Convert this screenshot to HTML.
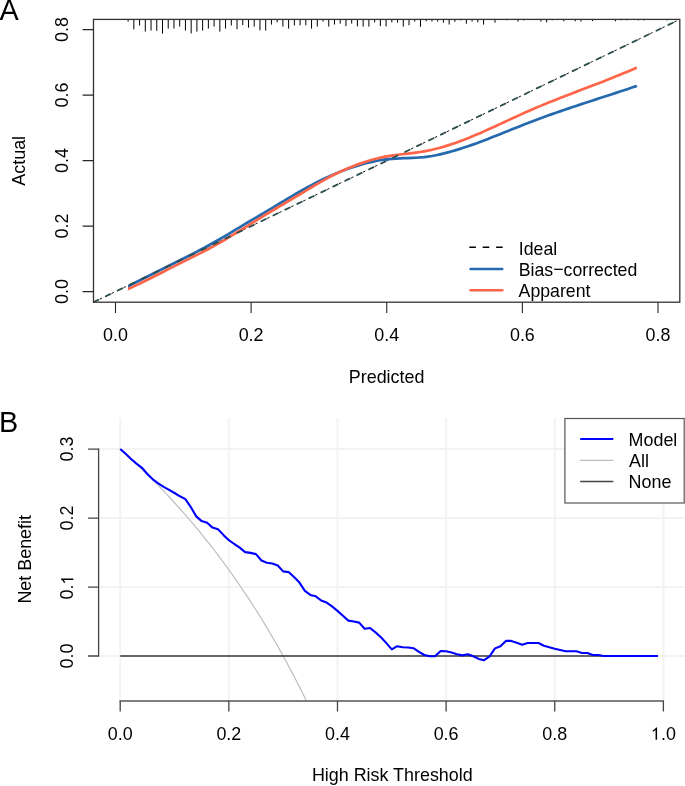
<!DOCTYPE html>
<html><head><meta charset="utf-8"><style>
html,body{margin:0;padding:0;background:#fff;width:685px;height:786px;overflow:hidden;}
svg{will-change:transform}
svg text{font-family:"Liberation Sans",sans-serif;}
</style></head><body>
<svg width="685" height="786" viewBox="0 0 685 786" style="display:block">
<rect x="0" y="0" width="685" height="786" fill="#fff"/>
<path d="M128.10,19.40 V21.60 M133.83,19.40 V29.40 M139.57,19.40 V25.50 M145.30,19.40 V31.60 M151.03,19.40 V30.60 M156.76,19.40 V30.80 M162.50,19.40 V33.60 M168.23,19.40 V28.60 M173.96,19.40 V28.60 M179.70,19.40 V26.60 M185.43,19.40 V30.60 M191.16,19.40 V33.40 M196.90,19.40 V31.60 M202.63,19.40 V30.60 M208.36,19.40 V28.60 M214.09,19.40 V26.60 M219.83,19.40 V31.60 M225.56,19.40 V28.60 M231.29,19.40 V25.50 M237.03,19.40 V29.20 M242.76,19.40 V25.10 M248.49,19.40 V27.70 M254.23,19.40 V26.60 M259.96,19.40 V30.30 M265.69,19.40 V30.60 M271.42,19.40 V24.60 M277.16,19.40 V22.40 M282.89,19.40 V26.60 M288.62,19.40 V28.60 M294.36,19.40 V25.50 M300.09,19.40 V25.30 M305.82,19.40 V25.30 M311.56,19.40 V28.60 M317.29,19.40 V26.60 M323.02,19.40 V21.60 M328.75,19.40 V26.60 M334.49,19.40 V24.50 M340.22,19.40 V23.60 M345.95,19.40 V26.20 M351.69,19.40 V23.60 M357.42,19.40 V26.40 M363.15,19.40 V26.60 M368.89,19.40 V26.60 M374.62,19.40 V22.40 M380.35,19.40 V26.20 M386.08,19.40 V26.40 M391.82,19.40 V22.40 M397.55,19.40 V22.70 M403.28,19.40 V26.60 M409.02,19.40 V25.30 M414.75,19.40 V21.60 M420.48,19.40 V26.80 M426.22,19.40 V21.30 M431.95,19.40 V21.60 M437.68,19.40 V21.60 M443.41,19.40 V22.70 M449.15,19.40 V24.50 M454.88,19.40 V21.80 M460.61,19.40 V20.40 M466.35,19.40 V23.80 M472.08,19.40 V21.60 M477.81,19.40 V22.40 M483.55,19.40 V24.60 M495.01,19.40 V22.70 M500.75,19.40 V20.10 M506.48,19.40 V20.30 M517.94,19.40 V21.60 M523.68,19.40 V20.40 M540.88,19.40 V21.60 M546.61,19.40 V22.40 M552.34,19.40 V20.30 M563.81,19.40 V21.30 M575.27,19.40 V21.30 M581.01,19.40 V21.60 M592.47,19.40 V21.10 M615.40,19.40 V21.30 M621.14,19.40 V20.40 M626.87,19.40 V20.40 M638.34,19.40 V20.40 M644.07,19.40 V20.40 M667.00,19.40 V20.40 " stroke="#000" stroke-width="1" fill="none"/>
<line x1="93.50" y1="302.20" x2="679.80" y2="19.40" stroke="#111" stroke-width="1" stroke-dasharray="2.6 4.045" stroke-dashoffset="-0.175"/>
<clipPath id="cs"><rect x="128.0" y="0" width="600" height="400"/></clipPath>
<g clip-path="url(#cs)"><path d="M126.00,287.48 L128.00,286.44 L132.00,284.36 L136.00,282.30 L140.00,280.27 L144.00,278.25 L148.00,276.24 L152.00,274.24 L156.00,272.25 L160.00,270.27 L164.00,268.29 L168.00,266.30 L172.00,264.31 L176.00,262.32 L180.00,260.31 L184.00,258.29 L188.00,256.25 L192.00,254.19 L196.00,252.11 L200.00,250.01 L204.00,247.87 L208.00,245.70 L212.00,243.50 L216.00,241.26 L220.00,238.98 L224.00,236.66 L228.00,234.30 L232.00,231.90 L236.00,229.47 L240.00,227.04 L244.00,224.64 L248.00,222.27 L252.00,219.92 L256.00,217.57 L260.00,215.22 L264.00,212.85 L268.00,210.46 L272.00,208.06 L276.00,205.66 L280.00,203.25 L284.00,200.85 L288.00,198.47 L292.00,196.11 L296.00,193.78 L300.00,191.48 L304.00,189.22 L308.00,187.01 L312.00,184.85 L316.00,182.76 L320.00,180.73 L324.00,178.78 L328.00,176.91 L332.00,175.12 L336.00,173.41 L340.00,171.79 L344.00,170.25 L348.00,168.80 L352.00,167.43 L356.00,166.14 L360.00,164.93 L364.00,163.81 L368.00,162.77 L372.00,161.83 L376.00,160.99 L380.00,160.27 L384.00,159.66 L388.00,159.18 L392.00,158.82 L396.00,158.56 L400.00,158.37 L404.00,158.22 L408.00,158.08 L412.00,157.93 L416.00,157.73 L420.00,157.46 L424.00,157.09 L428.00,156.59 L432.00,155.97 L436.00,155.22 L440.00,154.37 L444.00,153.43 L448.00,152.39 L452.00,151.29 L456.00,150.12 L460.00,148.88 L464.00,147.59 L468.00,146.24 L472.00,144.85 L476.00,143.42 L480.00,141.94 L484.00,140.44 L488.00,138.90 L492.00,137.34 L496.00,135.76 L500.00,134.17 L504.00,132.57 L508.00,130.96 L512.00,129.35 L516.00,127.75 L520.00,126.15 L524.00,124.58 L528.00,123.02 L532.00,121.48 L536.00,119.97 L540.00,118.48 L544.00,117.01 L548.00,115.57 L552.00,114.14 L556.00,112.74 L560.00,111.35 L564.00,109.97 L568.00,108.61 L572.00,107.27 L576.00,105.93 L580.00,104.60 L584.00,103.28 L588.00,101.97 L592.00,100.66 L596.00,99.36 L600.00,98.06 L604.00,96.76 L608.00,95.46 L612.00,94.16 L616.00,92.85 L620.00,91.54 L624.00,90.23 L628.00,88.91 L632.00,87.57 L635.80,86.30" stroke="#2569AF" stroke-width="2.70" fill="none" stroke-linejoin="round"/></g>
<circle cx="635.80" cy="86.30" r="1.35" fill="#2569AF"/>
<g clip-path="url(#cs)"><path d="M126.00,289.95 L128.00,289.05 L132.00,287.25 L136.00,285.39 L140.00,283.48 L144.00,281.54 L148.00,279.56 L152.00,277.56 L156.00,275.54 L160.00,273.50 L164.00,271.46 L168.00,269.42 L172.00,267.39 L176.00,265.37 L180.00,263.37 L184.00,261.38 L188.00,259.39 L192.00,257.40 L196.00,255.39 L200.00,253.36 L204.00,251.30 L208.00,249.21 L212.00,247.06 L216.00,244.87 L220.00,242.61 L224.00,240.29 L228.00,237.90 L232.00,235.47 L236.00,233.00 L240.00,230.52 L244.00,228.02 L248.00,225.53 L252.00,223.05 L256.00,220.58 L260.00,218.12 L264.00,215.68 L268.00,213.27 L272.00,210.88 L276.00,208.50 L280.00,206.12 L284.00,203.75 L288.00,201.39 L292.00,199.02 L296.00,196.64 L300.00,194.24 L304.00,191.84 L308.00,189.43 L312.00,187.03 L316.00,184.67 L320.00,182.35 L324.00,180.09 L328.00,177.91 L332.00,175.82 L336.00,173.80 L340.00,171.88 L344.00,170.04 L348.00,168.29 L352.00,166.64 L356.00,165.08 L360.00,163.61 L364.00,162.25 L368.00,160.98 L372.00,159.82 L376.00,158.75 L380.00,157.80 L384.00,156.94 L388.00,156.20 L392.00,155.56 L396.00,154.99 L400.00,154.48 L404.00,154.01 L408.00,153.55 L412.00,153.07 L416.00,152.56 L420.00,152.00 L424.00,151.35 L428.00,150.61 L432.00,149.76 L436.00,148.81 L440.00,147.76 L444.00,146.62 L448.00,145.40 L452.00,144.09 L456.00,142.71 L460.00,141.26 L464.00,139.74 L468.00,138.17 L472.00,136.54 L476.00,134.86 L480.00,133.14 L484.00,131.38 L488.00,129.60 L492.00,127.79 L496.00,125.95 L500.00,124.11 L504.00,122.26 L508.00,120.40 L512.00,118.55 L516.00,116.70 L520.00,114.87 L524.00,113.07 L528.00,111.28 L532.00,109.53 L536.00,107.81 L540.00,106.13 L544.00,104.47 L548.00,102.83 L552.00,101.22 L556.00,99.63 L560.00,98.06 L564.00,96.50 L568.00,94.95 L572.00,93.41 L576.00,91.88 L580.00,90.36 L584.00,88.83 L588.00,87.31 L592.00,85.78 L596.00,84.24 L600.00,82.70 L604.00,81.14 L608.00,79.57 L612.00,77.98 L616.00,76.37 L620.00,74.75 L624.00,73.09 L628.00,71.41 L632.00,69.70 L635.80,68.04" stroke="#FF6549" stroke-width="2.70" fill="none" stroke-linejoin="round"/></g>
<circle cx="635.80" cy="68.04" r="1.35" fill="#FF6549"/>
<line x1="93.50" y1="302.20" x2="679.80" y2="19.40" stroke="#2F4F4F" stroke-width="1.8" stroke-dasharray="5.0 8.29" stroke-dashoffset="-0.32" stroke-linecap="round"/>
<rect x="93.50" y="19.40" width="586.30" height="282.80" fill="none" stroke="#333" stroke-width="1.3"/>
<path d="M93.50,291.60 H82.60 M93.50,226.10 H82.60 M93.50,160.60 H82.60 M93.50,95.10 H82.60 M93.50,29.60 H82.60 M115.50,302.20 V312.90 M251.12,302.20 V312.90 M386.75,302.20 V312.90 M522.38,302.20 V312.90 M658.00,302.20 V312.90 " stroke="#262626" stroke-width="1.1" fill="none"/>
<line x1="469.3" y1="247.3" x2="503" y2="247.3" stroke="#000" stroke-width="1.4" stroke-dasharray="6.6 6.8"/>
<line x1="470.6" y1="269.0" x2="502.2" y2="269.0" stroke="#2569AF" stroke-width="2.6" stroke-linecap="round"/>
<line x1="470.6" y1="290.2" x2="502.2" y2="290.2" stroke="#FF6549" stroke-width="2.6" stroke-linecap="round"/>
<path d="M120.20,418.00 V701.00 M228.84,418.00 V701.00 M337.48,418.00 V701.00 M446.12,418.00 V701.00 M554.76,418.00 V701.00 M663.40,418.00 V701.00 M98.60,656.00 H686.00 M98.60,587.03 H686.00 M98.60,518.06 H686.00 M98.60,449.09 H686.00 " stroke="#F3F3F3" stroke-width="2" fill="none"/>
<clipPath id="cb"><rect x="98.60" y="418.00" width="587.40" height="283.00"/></clipPath>
<path d="M120.20,449.09 L122.92,451.52 L125.63,453.97 L128.35,456.44 L131.06,458.94 L133.78,461.47 L136.50,464.02 L139.21,466.60 L141.93,469.21 L144.64,471.84 L147.36,474.50 L150.08,477.19 L152.79,479.91 L155.51,482.65 L158.22,485.43 L160.94,488.24 L163.66,491.07 L166.37,493.94 L169.09,496.84 L171.80,499.77 L174.52,502.73 L177.24,505.73 L179.95,508.76 L182.67,511.83 L185.38,514.92 L188.10,518.06 L190.82,521.23 L193.53,524.44 L196.25,527.68 L198.96,530.97 L201.68,534.29 L204.40,537.65 L207.11,541.05 L209.83,544.49 L212.54,547.97 L215.26,551.50 L217.98,555.07 L220.69,558.68 L223.41,562.34 L226.12,566.04 L228.84,569.79 L231.56,573.58 L234.27,577.43 L236.99,581.32 L239.70,585.26 L242.42,589.25 L245.14,593.30 L247.85,597.40 L250.57,601.55 L253.28,605.76 L256.00,610.02 L258.72,614.34 L261.43,618.72 L264.15,623.16 L266.86,627.66 L269.58,632.22 L272.30,636.84 L275.01,641.53 L277.73,646.29 L280.44,651.11 L283.16,656.00 L285.88,660.96 L288.59,666.00 L291.31,671.10 L294.02,676.29 L296.74,681.54 L299.46,686.88 L302.17,692.30 L304.89,697.80 L307.60,703.38" stroke="#BEBEBE" stroke-width="1.2" fill="none" clip-path="url(#cb)"/>
<line x1="120.20" y1="656" x2="657.97" y2="656" stroke="#363636" stroke-width="1.5"/>
<path d="M120.20,449.00 L125.63,453.80 L131.06,459.00 L136.50,463.60 L141.93,467.80 L147.36,474.00 L152.79,479.30 L158.22,483.30 L163.66,486.80 L169.09,489.80 L174.52,493.00 L179.95,496.30 L185.38,499.10 L190.82,507.10 L196.25,516.40 L201.68,521.10 L207.11,522.80 L212.54,527.60 L217.98,529.20 L223.41,534.90 L228.84,540.20 L234.27,544.00 L239.70,547.60 L245.14,552.10 L250.57,552.90 L256.00,554.10 L261.43,560.50 L266.86,562.80 L272.30,563.50 L277.73,565.50 L283.16,571.40 L288.59,572.10 L294.02,577.10 L299.46,582.60 L304.89,590.80 L310.32,594.90 L315.75,596.30 L321.18,600.50 L326.62,602.60 L332.05,606.40 L337.48,610.90 L342.91,615.80 L348.34,620.60 L353.78,621.50 L359.21,622.60 L364.64,628.70 L370.07,628.00 L375.50,632.40 L380.94,637.20 L386.37,643.10 L391.80,649.40 L397.23,646.20 L402.66,647.30 L408.10,647.50 L413.53,648.20 L418.96,651.90 L424.39,655.00 L429.82,656.30 L435.26,656.10 L440.69,651.00 L446.12,651.30 L451.55,652.50 L456.98,654.30 L462.42,655.40 L467.85,654.30 L473.28,656.30 L478.71,658.90 L484.14,660.20 L489.58,656.30 L495.01,648.40 L500.44,646.20 L505.87,640.90 L511.30,640.90 L516.74,642.70 L522.17,644.70 L527.60,643.00 L533.03,643.00 L538.46,643.00 L543.90,645.80 L549.33,647.30 L554.76,648.80 L560.19,650.00 L565.62,651.30 L571.06,651.30 L576.49,651.30 L581.92,653.00 L587.35,653.00 L592.78,655.00 L598.22,655.00 L603.65,656.00 L609.08,656.00 L614.51,656.00 L619.94,656.00 L625.38,656.00 L630.81,656.00 L636.24,656.00 L641.67,656.00 L647.10,656.00 L652.54,656.00 L657.97,656.00" stroke="#0000FF" stroke-width="2.1" fill="none" stroke-linejoin="round" stroke-linecap="butt"/>
<path d="M98.60,449.09 V656.00 " stroke="#444" stroke-width="1.3" fill="none" stroke-linecap="square"/>
<path d="M120.20,701.00 H663.40 " stroke="#555" stroke-width="1.3" fill="none" stroke-linecap="square"/>
<path d="M98.60,656.00 H88.10 M98.60,587.03 H88.10 M98.60,518.06 H88.10 M98.60,449.09 H88.10 M120.20,701.00 V711.60 M228.84,701.00 V711.60 M337.48,701.00 V711.60 M446.12,701.00 V711.60 M554.76,701.00 V711.60 M663.40,701.00 V711.60 " stroke="#444" stroke-width="1.3" fill="none"/>
<rect x="564.9" y="418.5" width="119.3" height="84.5" fill="#fff" stroke="#555" stroke-width="1.2"/>
<line x1="580.2" y1="439.0" x2="613.3" y2="439.0" stroke="#0000FF" stroke-width="2.1"/>
<line x1="580.2" y1="460.3" x2="613.3" y2="460.3" stroke="#BEBEBE" stroke-width="1.2"/>
<line x1="580.2" y1="481.5" x2="613.3" y2="481.5" stroke="#444" stroke-width="1.4"/>
<g font-family='&quot;Liberation Sans&quot;, sans-serif' font-size="17.90" fill="#000">
<text x="115.50" y="340.70" text-anchor="middle">0.0</text>
<text transform="translate(68.1,291.60) rotate(-90)" text-anchor="middle">0.0</text>
<text x="251.12" y="340.70" text-anchor="middle">0.2</text>
<text transform="translate(68.1,226.10) rotate(-90)" text-anchor="middle">0.2</text>
<text x="386.75" y="340.70" text-anchor="middle">0.4</text>
<text transform="translate(68.1,160.60) rotate(-90)" text-anchor="middle">0.4</text>
<text x="522.38" y="340.70" text-anchor="middle">0.6</text>
<text transform="translate(68.1,95.10) rotate(-90)" text-anchor="middle">0.6</text>
<text x="658.00" y="340.70" text-anchor="middle">0.8</text>
<text transform="translate(68.1,29.60) rotate(-90)" text-anchor="middle">0.8</text>
<text x="386.6" y="382.6" text-anchor="middle">Predicted</text>
<text transform="translate(25.4,160.8) rotate(-90)" text-anchor="middle">Actual</text>
<text x="518.8" y="254.7" font-size="17.7">Ideal</text>
<text x="518.8" y="275.7" font-size="17.7">Bias<tspan dy="-0.9">−</tspan><tspan dy="0.9">corrected</tspan></text>
<text x="518.6" y="296.7" font-size="17.7">Apparent</text>
<text x="120.20" y="739.7" text-anchor="middle">0.0</text>
<text x="228.84" y="739.7" text-anchor="middle">0.2</text>
<text x="337.48" y="739.7" text-anchor="middle">0.4</text>
<text x="446.12" y="739.7" text-anchor="middle">0.6</text>
<text x="554.76" y="739.7" text-anchor="middle">0.8</text>
<text x="660.91" y="739.7">.0</text>
<text transform="translate(73.3,656.00) rotate(-90)" text-anchor="middle">0.0</text>
<g transform="translate(73.3,587.03) rotate(-90)"><text x="-12.44" y="0">0.</text><path d="M700,0 L528,0 L528,1100 C490,1064 440,1028 378,992 C316,956 260,929 210,911 L210,1077 C298,1118 374,1168 440,1226 C506,1284 552,1345 578,1409 L700,1409 Z" transform="translate(2.487,0.000) scale(0.008740,-0.008740)" fill="#000"/></g>
<text transform="translate(73.3,518.06) rotate(-90)" text-anchor="middle">0.2</text>
<text transform="translate(73.3,449.09) rotate(-90)" text-anchor="middle">0.3</text>
<text x="392.3" y="781.4" text-anchor="middle">High Risk Threshold</text>
<text transform="translate(30.9,559.3) rotate(-90)" text-anchor="middle">Net Benefit</text>
<text x="628.6" y="445.9">Model</text>
<text x="629.0" y="467.0">All</text>
<text x="628.6" y="488.2">None</text>
</g>
<path d="M700,0 L528,0 L528,1100 C490,1064 440,1028 378,992 C316,956 260,929 210,911 L210,1077 C298,1118 374,1168 440,1226 C506,1284 552,1345 578,1409 L700,1409 Z" transform="translate(650.958,739.700) scale(0.008740,-0.008740)" fill="#000"/>
<g font-family='&quot;Liberation Sans&quot;, sans-serif' font-size="28.8" fill="#000"><text x="-0.45" y="19.6">A</text><text x="-1.1" y="431.8">B</text></g>
</svg>
</body></html>
